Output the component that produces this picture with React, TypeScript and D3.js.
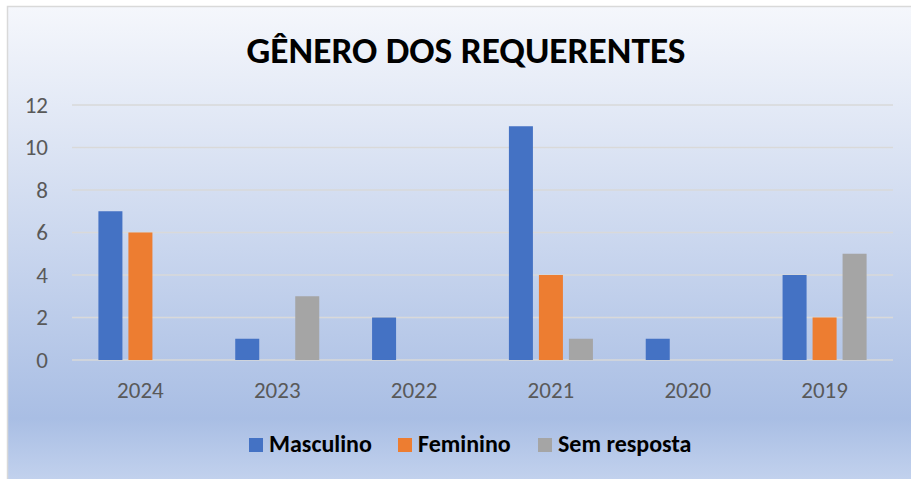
import React from "react";
import * as d3 from "d3";

const categories = ["2024", "2023", "2022", "2021", "2020", "2019"];
const seriesNames = ["Masculino", "Feminino", "Sem resposta"];
const masculino = [7, 1, 2, 11, 1, 4];
const feminino = [6, 0, 0, 4, 0, 2];
const semResposta = [0, 3, 0, 1, 0, 5];
const yTicks = [0, 2, 4, 6, 8, 10, 12];
const colors = ["#4472c4", "#ed7d31", "#a5a5a5"];
const title = "GÊNERO DOS REQUERENTES";

const W = 911;
const H = 479;
const plot = { left: 72, right: 893, top: 105, bottom: 360 };

export default function App() {
  const values = [masculino, feminino, semResposta];
  const x0 = d3.scaleBand<string>().domain(categories).range([plot.left, plot.right]).padding(0);
  const bw = x0.bandwidth();
  const groupW = bw * 0.614;
  const x1 = d3
    .scaleBand<string>()
    .domain(seriesNames)
    .range([(bw - groupW) / 2, (bw + groupW) / 2])
    .paddingInner(0.2)
    .paddingOuter(0);
  const y = d3.scaleLinear().domain([0, 12]).range([plot.bottom, plot.top]);

  const legendX = [249, 398, 538];
  const labelFont = "Calibri, Carlito, 'Liberation Sans', Arial, sans-serif";

  return (
    <svg
      width={W}
      height={H}
      style={{ position: "absolute", left: 0, top: 0, display: "block" }}
    >
      <defs>
        <linearGradient id="bg" x1="0" y1="0" x2="0" y2="1">
          <stop offset="0" stopColor="#f5f7fc" />
          <stop offset="0.25" stopColor="#e0e7f5" />
          <stop offset="0.86" stopColor="#a9bee4" />
          <stop offset="1" stopColor="#c4d3ee" />
        </linearGradient>
      </defs>
      <rect x={0} y={0} width={W} height={H} fill="#ffffff" />
      <rect x={7.5} y={6.5} width={W} height={H} fill="url(#bg)" stroke="#d9d9d9" strokeWidth={1.5} />

      <text
        x={466}
        y={63}
        textAnchor="middle"
        fontFamily={labelFont}
        fontWeight="bold"
        fontSize={37}
        fill="#000"
        textLength={439}
        lengthAdjust="spacingAndGlyphs"
      >
        {title}
      </text>

      {yTicks.map((t) => (
        <g key={t}>
          <line
            x1={plot.left}
            x2={plot.right}
            y1={y(t)}
            y2={y(t)}
            stroke="#d9d9d9"
            strokeWidth={1.5}
          />
          <text
            x={48}
            y={y(t)}
            dy="0.33em"
            textAnchor="end"
            fontFamily={labelFont}
            fontSize={23}
            fill="#595959"
          >
            {t}
          </text>
        </g>
      ))}

      {categories.map((c, i) => (
        <g key={c} transform={`translate(${x0(c)},0)`}>
          {seriesNames.map((s, j) => {
            const v = values[j][i];
            if (!v) return null;
            return (
              <rect
                key={s}
                x={x1(s)}
                y={y(v)}
                width={x1.bandwidth()}
                height={y(0) - y(v)}
                fill={colors[j]}
              />
            );
          })}
          <text
            x={bw / 2}
            y={398}
            textAnchor="middle"
            fontFamily={labelFont}
            fontSize={23}
            fill="#595959"
          >
            {c}
          </text>
        </g>
      ))}

      {seriesNames.map((s, j) => (
        <g key={s} transform={`translate(${legendX[j]},438)`}>
          <rect x={0} y={0} width={14} height={14} fill={colors[j]} />
          <text
            x={20}
            y={14}
            fontFamily={labelFont}
            fontWeight="bold"
            fontSize={24}
            fill="#000"
          >
            {s}
          </text>
        </g>
      ))}
    </svg>
  );
}
